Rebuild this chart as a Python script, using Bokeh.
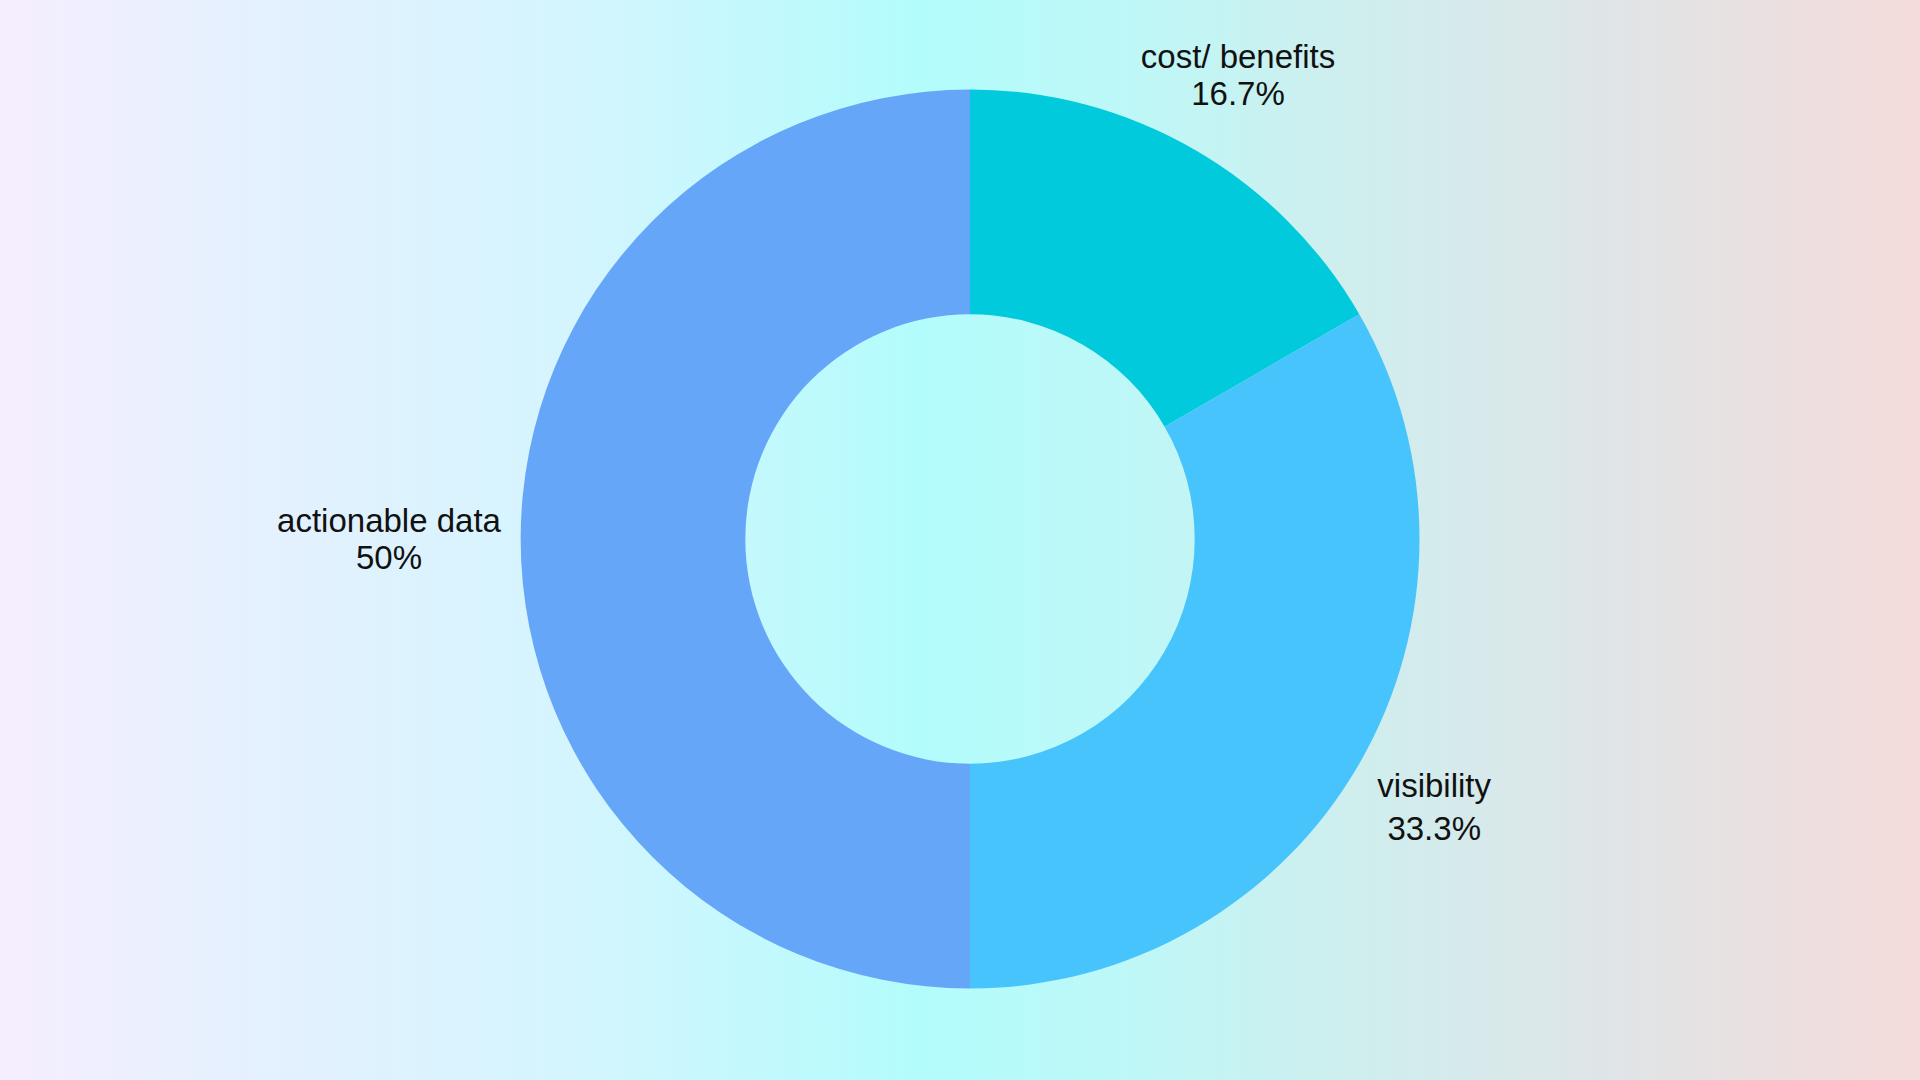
import math
from bokeh.plotting import figure
from bokeh.models import ColumnDataSource
from bokeh.core.properties import value
from bokeh.embed import file_html
from bokeh.resources import INLINE

# ---- data ----
categories = ["cost/ benefits", "visibility", "actionable data"]
values = [1, 2, 3]
colors = ["#00CADB", "#48C4FC", "#66A6F8"]

# ---- layout (pixel space, y measured from top) ----
W, H = 1920, 1080
CX, CY = 969.5, 538.5
R_OUT, R_IN = 449.5, 224.7
label_r = {"cost/ benefits": 536, "visibility": 536, "actionable data": 581}
label_gap = {"cost/ benefits": 37, "visibility": 43, "actionable data": 37}

total = float(sum(values))
starts, ends, names, pcts, nx, ny, px_, py_ = [], [], [], [], [], [], [], []
cum = 0.0
for cat, v in zip(categories, values):
    a0 = math.pi / 2 - cum / total * 2 * math.pi
    cum += v
    a1 = math.pi / 2 - cum / total * 2 * math.pi
    starts.append(a0)
    ends.append(a1)
    mid = (a0 + a1) / 2
    r = label_r[cat]
    x = CX + r * math.cos(mid)
    y = (H - CY) + r * math.sin(mid)
    g = label_gap[cat] / 2
    nx.append(x); ny.append(y + g)
    px_.append(x); py_.append(y - g)
    pct = round(v / total * 100, 1)
    s = f"{pct:.1f}".rstrip("0").rstrip(".")
    names.append(cat)
    pcts.append(s + "%")

src = ColumnDataSource(dict(start=starts, end=ends, color=colors,
                            name=names, pct=pcts, nx=nx, ny=ny, px=px_, py=py_))

p = figure(width=W, height=H, x_range=(0, W), y_range=(0, H),
           output_backend="svg", toolbar_location=None, min_border=0)
p.axis.visible = False
p.grid.visible = False
p.outline_line_color = None
p.background_fill_alpha = 0
p.border_fill_alpha = 0
p.styles = {"background": "linear-gradient(to right, #f6eeff 0%, #e7f0fe 11%, #d4f5fe 30%, #b3fcfc 48%, #bdf8f8 58%, #cdefef 69%, #dde6e8 82%, #f5dbdb 100%)"}

p.annular_wedge(x=CX, y=H - CY, inner_radius=R_IN, outer_radius=R_OUT,
                start_angle="start", end_angle="end", direction="clock",
                fill_color="color", line_color=None, source=src)

p.text(x="nx", y="ny", text="name", source=src,
       text_align="center", text_baseline="middle",
       text_font=value("Liberation Sans"), text_font_size="33px", text_color="#111111")
p.text(x="px", y="py", text="pct", source=src,
       text_align="center", text_baseline="middle",
       text_font=value("Liberation Sans"), text_font_size="33px", text_color="#111111")

html = file_html(p, INLINE)
html = html.replace("<body>", '<body style="margin:0;padding:0;">', 1)
open("out.html", "w").write(html)
